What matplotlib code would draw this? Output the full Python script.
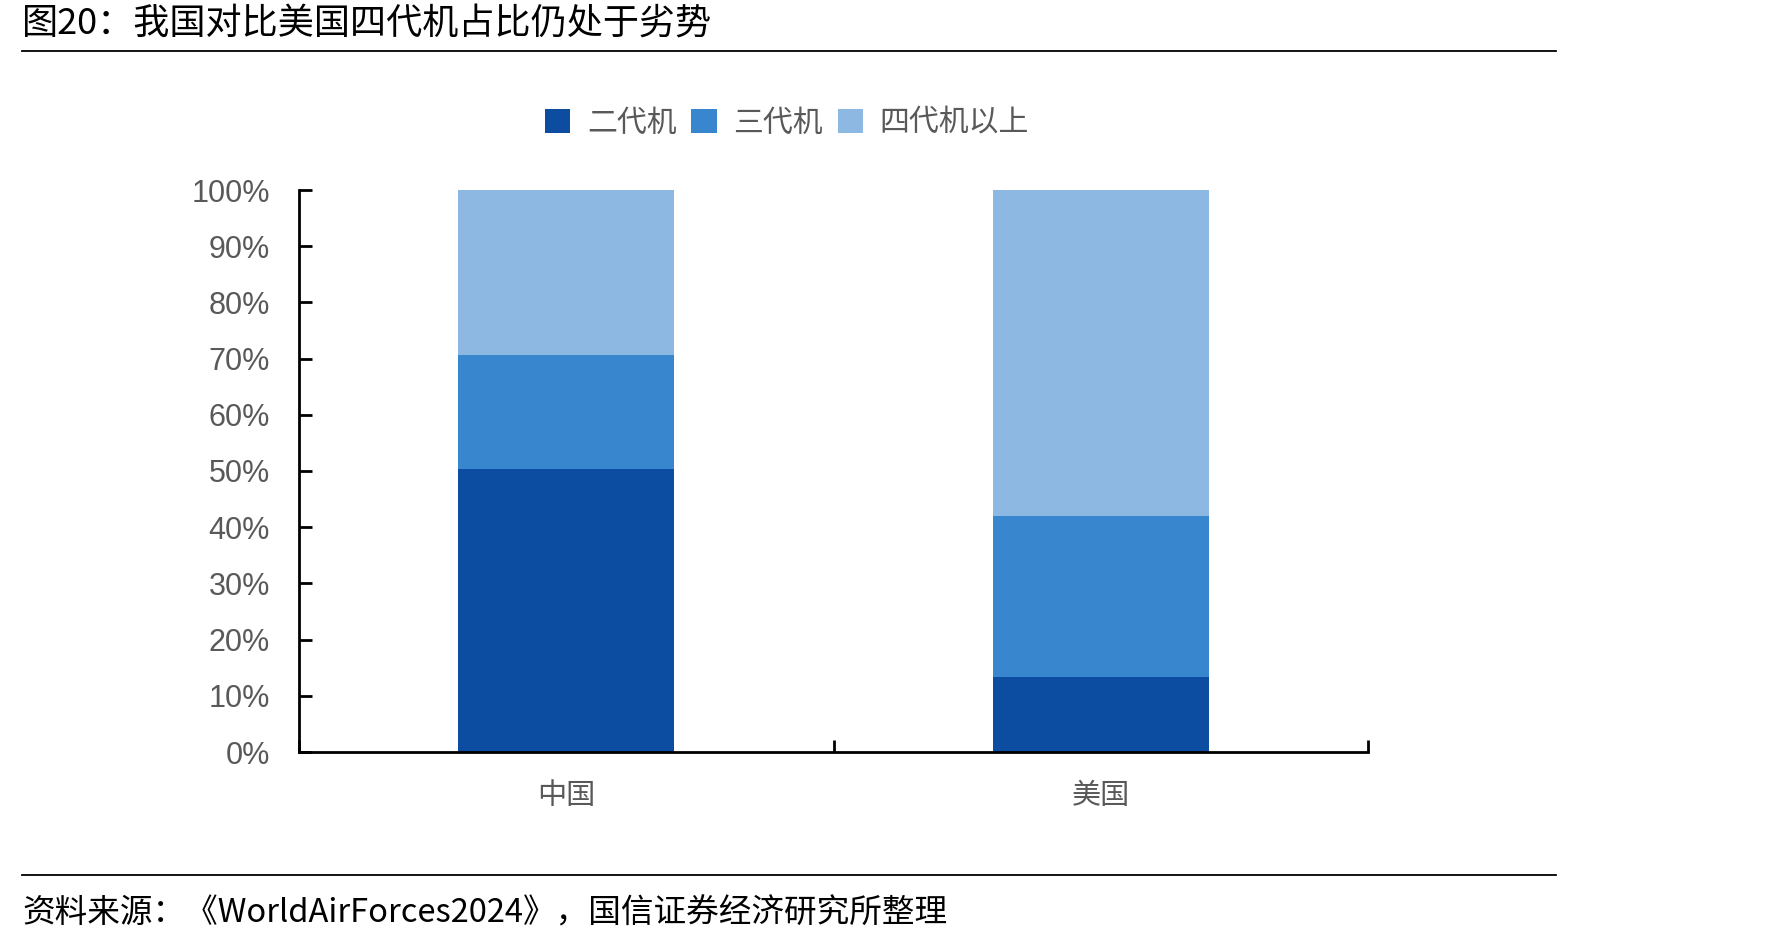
import matplotlib
matplotlib.use("Agg")
import matplotlib.pyplot as plt
from matplotlib.patches import Patch
from matplotlib.lines import Line2D

plt.rcParams['font.family'] = ['Noto Sans CJK SC', 'DejaVu Sans']

categories = ["中国", "美国"]
series_names = ["二代机", "三代机", "四代机以上"]
gen2 = [50.3, 13.4]
gen3 = [20.3, 28.6]
gen4 = [29.4, 58.0]
yticks = [0, 10, 20, 30, 40, 50, 60, 70, 80, 90, 100]
ytick_labels = [f"{v}%" for v in yticks]
colors = ["#0C4DA2", "#3886CE", "#8CB8E2"]

title = "图20：我国对比美国四代机占比仍处于劣势"
source = "资料来源：《WorldAirForces2024》，国信证券经济研究所整理"

W, H = 1771, 943
fig = plt.figure(figsize=(W / 100, H / 100), dpi=100)
ax = fig.add_axes([299 / W, 1 - 752 / H, (1368 - 299) / W, (752 - 190) / H])

x = list(range(len(categories)))
bw = 0.404
bottom = [0.0] * len(categories)
for vals, name, c in zip([gen2, gen3, gen4], series_names, colors):
    ax.bar(x, vals, bw, bottom=bottom, color=c, label=name, zorder=2)
    bottom = [b + v for b, v in zip(bottom, vals)]

ax.set_xlim(-0.5, len(categories) - 0.5)
ax.set_ylim(0, 100)
ax.set_yticks(yticks)
ax.set_yticklabels(ytick_labels, fontfamily=['Liberation Sans'], fontsize=22, color='#595959')
ax.tick_params(axis='y', direction='in', length=9, width=2, pad=21)

ax.set_xticks([i - 0.5 for i in range(len(categories) + 1)])
ax.set_xticklabels([])
ax.tick_params(axis='x', direction='in', length=9, width=2)
ax.set_xticks(x, minor=True)
ax.set_xticklabels(categories, minor=True, fontsize=21, color='#595959')
ax.tick_params(axis='x', which='minor', length=0, pad=21)

for s in ['top', 'right']:
    ax.spines[s].set_visible(False)
for s in ['left', 'bottom']:
    ax.spines[s].set_linewidth(2)
    ax.spines[s].set_color('black')

handles = [Patch(facecolor=c, edgecolor='none') for c in colors]
leg = fig.legend(handles, series_names, loc='center', bbox_to_anchor=(787 / W, 1 - 123 / H),
                 ncol=3, frameon=False, fontsize=21.5, handlelength=0.85, handleheight=0.85,
                 handletextpad=0.55, columnspacing=0.5)
for t in leg.get_texts():
    t.set_color('#595959')

fig.text(22 / W, 1 - 25 / H, title, fontsize=26, ha='left', va='center', color='black')
fig.add_artist(Line2D([22 / W, 1556 / W], [1 - 51 / H, 1 - 51 / H], color='black', lw=1.3))
fig.add_artist(Line2D([22 / W, 1556 / W], [1 - 875 / H, 1 - 875 / H], color='black', lw=1.3))
fig.text(22 / W, 1 - 914 / H, source, fontsize=23.5, ha='left', va='center', color='black')

fig.savefig("out.png", dpi=100, facecolor='white')
